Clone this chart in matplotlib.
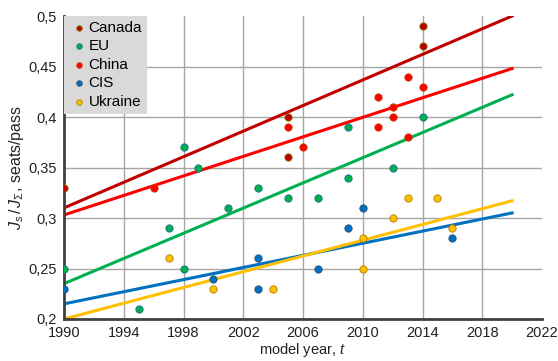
import matplotlib.pyplot as plt
from matplotlib.ticker import FuncFormatter

plt.rcParams['font.family'] = ['Liberation Sans', 'DejaVu Sans']
plt.rcParams['mathtext.fontset'] = 'custom'
plt.rcParams['mathtext.it'] = 'Liberation Sans:italic'
plt.rcParams['mathtext.rm'] = 'Liberation Sans'

# Data
canada_years = [1990, 2005, 2005, 2014, 2014]
canada_vals = [0.33, 0.40, 0.36, 0.49, 0.47]

eu_years = [1990, 1995, 1997, 1998, 1998, 1999, 2001, 2003, 2005, 2007, 2009, 2009, 2012, 2014]
eu_vals = [0.25, 0.21, 0.29, 0.37, 0.25, 0.35, 0.31, 0.33, 0.32, 0.32, 0.34, 0.39, 0.35, 0.40]

china_years = [1996, 2005, 2006, 2011, 2011, 2012, 2012, 2013, 2013, 2014]
china_vals = [0.33, 0.39, 0.37, 0.42, 0.39, 0.41, 0.40, 0.44, 0.38, 0.43]

cis_years = [1990, 2000, 2003, 2003, 2007, 2009, 2010, 2016]
cis_vals = [0.23, 0.24, 0.26, 0.23, 0.25, 0.29, 0.31, 0.28]

ukraine_years = [1997, 2000, 2004, 2010, 2010, 2012, 2013, 2015, 2016]
ukraine_vals = [0.26, 0.23, 0.23, 0.28, 0.25, 0.30, 0.32, 0.32, 0.29]

# trend lines: value at 1990 and at 2020
trend_years = [1990, 2020]
canada_trend = [0.310, 0.500]
eu_trend = [0.235, 0.422]
china_trend = [0.303, 0.448]
cis_trend = [0.215, 0.305]
ukraine_trend = [0.200, 0.317]

series = [
    ("Canada", canada_years, canada_vals, canada_trend, '#C00000', '#7F7F00'),
    ("EU", eu_years, eu_vals, eu_trend, '#00B050', '#1F6F8F'),
    ("China", china_years, china_vals, china_trend, '#FF0000', '#C04000'),
    ("CIS", cis_years, cis_vals, cis_trend, '#0070C0', '#305070'),
    ("Ukraine", ukraine_years, ukraine_vals, ukraine_trend, '#FFC000', '#B08000'),
]

x_ticks = list(range(1990, 2023, 4))
y_ticks = [0.2, 0.25, 0.3, 0.35, 0.4, 0.45, 0.5]

fig = plt.figure(figsize=(5.58, 3.61), dpi=100)
ax = fig.add_axes([64 / 558, 42 / 361, 478 / 558, 303 / 361])

for name, xs, ys, trend, color, edge in series:
    ax.plot(trend_years, trend, color=color, lw=2.2, zorder=2)
for name, xs, ys, trend, color, edge in series:
    ax.scatter(xs, ys, s=28, color=color, edgecolors=edge, linewidths=0.6,
               label=name, zorder=3)

ax.set_xlim(1990, 2022)
ax.set_ylim(0.2, 0.5)
ax.set_xticks(x_ticks)
ax.set_yticks(y_ticks)
ax.yaxis.set_major_formatter(FuncFormatter(lambda v, p: f"{v:g}".replace('.', ',')))
ax.tick_params(length=0, labelsize=10.5, colors='#222222', pad=5)

ax.grid(True, color='#A6A6A6', lw=1.0, zorder=0)
ax.xaxis.get_gridlines()[-1].set_visible(False)
ax.yaxis.get_gridlines()[-1].set_visible(False)
ax.xaxis.get_gridlines()[0].set_visible(False)
ax.yaxis.get_gridlines()[0].set_visible(False)
ax.set_axisbelow(True)

for s in ['top', 'right']:
    ax.spines[s].set_visible(False)
for s in ['left', 'bottom']:
    ax.spines[s].set_color('#404040')
    ax.spines[s].set_linewidth(2.0)

ax.set_xlabel("model year, $t$", fontsize=10.5, color='#222222', labelpad=1)
ax.set_ylabel(r"$J_s\,/\,J_\Sigma$, seats/pass", fontsize=11.5, color='#222222', labelpad=2)

leg = ax.legend(loc='upper left', frameon=True, fancybox=False, framealpha=1,
                facecolor='#D9D9D9', edgecolor='none', fontsize=11,
                handletextpad=0.0, handlelength=1.3, borderpad=0.3,
                labelspacing=0.3, borderaxespad=0.0, markerscale=0.75)
leg.set_zorder(5)

fig.savefig("out.png", dpi=100)
